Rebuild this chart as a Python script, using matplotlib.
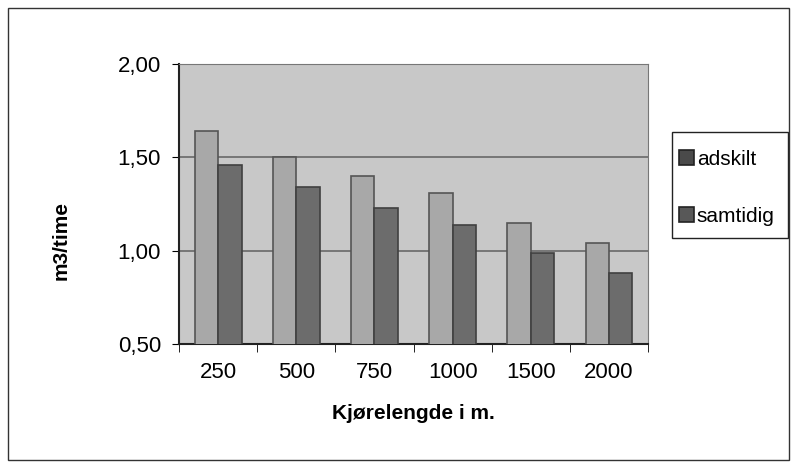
import numpy as np
import matplotlib.pyplot as plt
from matplotlib.patches import Rectangle

plt.rcParams['font.family'] = ['Liberation Sans', 'DejaVu Sans']

kategorier = ['250', '500', '750', '1000', '1500', '2000']
adskilt = [1.64, 1.50, 1.40, 1.31, 1.15, 1.04]
samtidig = [1.46, 1.34, 1.23, 1.14, 0.99, 0.88]

fig = plt.figure(figsize=(7.97, 4.68), dpi=100)
ax = fig.add_axes([0.2246, 0.265, 0.5885, 0.598])

x = np.arange(len(kategorier))
w = 0.3
ax.bar(x - w/2, adskilt, w, color='#a8a8a8', edgecolor='#555555', linewidth=1.2, label='adskilt', zorder=3)
ax.bar(x + w/2, samtidig, w, color='#6c6c6c', edgecolor='#404040', linewidth=1.2, label='samtidig', zorder=3)

ax.set_facecolor('#c8c8c8')
ax.set_ylim(0.5, 2.0)
ax.set_xlim(-0.5, len(kategorier) - 0.5)
ax.set_yticks([0.5, 1.0, 1.5, 2.0])
ax.set_yticklabels(['0,50', '1,00', '1,50', '2,00'], fontsize=16)
ax.set_xticks(x)
ax.set_xticklabels(kategorier, fontsize=16)
ax.set_xticks(np.arange(-0.5, len(kategorier)), minor=True)
ax.tick_params(axis='x', which='major', length=0, pad=13)
ax.tick_params(axis='x', which='minor', length=6, direction='out')
ax.tick_params(axis='y', length=5, direction='out', pad=8)
ax.yaxis.grid(True, color='#707070', linewidth=1.3, zorder=0)
for s in ['top', 'right']:
    ax.spines[s].set_color('#777777')
for s in ['left', 'bottom']:
    ax.spines[s].set_color('#222222')
    ax.spines[s].set_linewidth(1.5)

ax.set_ylabel('m3/time', fontsize=15, fontweight='bold')
ax.yaxis.set_label_coords(-0.232, 0.37)
ax.set_xlabel('Kjørelengde i m.', fontsize=15, fontweight='bold')
ax.xaxis.set_label_coords(0.5, -0.215)

# legende uten ramme, rammen tegnes separat
leg = fig.legend(loc='upper left', bbox_to_anchor=(679/797, 1 - 150/468), fontsize=15,
                 frameon=False, handlelength=0.7, handleheight=0.7, handletextpad=0.15,
                 labelspacing=1.8, borderpad=0, borderaxespad=0)
for h, c in zip(leg.legend_handles, ['#4a4a4a', '#585858']):
    h.set_facecolor(c)
    h.set_edgecolor('#222222')
fig.patches.append(Rectangle((672/797, 1 - 238/468), 116/797, 106/468, transform=fig.transFigure,
                             fill=False, edgecolor='#222222', linewidth=1.0))

fig.patches.append(Rectangle((0.01, 0.017), 0.98, 0.966, transform=fig.transFigure,
                             fill=False, edgecolor='#333333', linewidth=1.0))

fig.savefig('out.png', dpi=100)
